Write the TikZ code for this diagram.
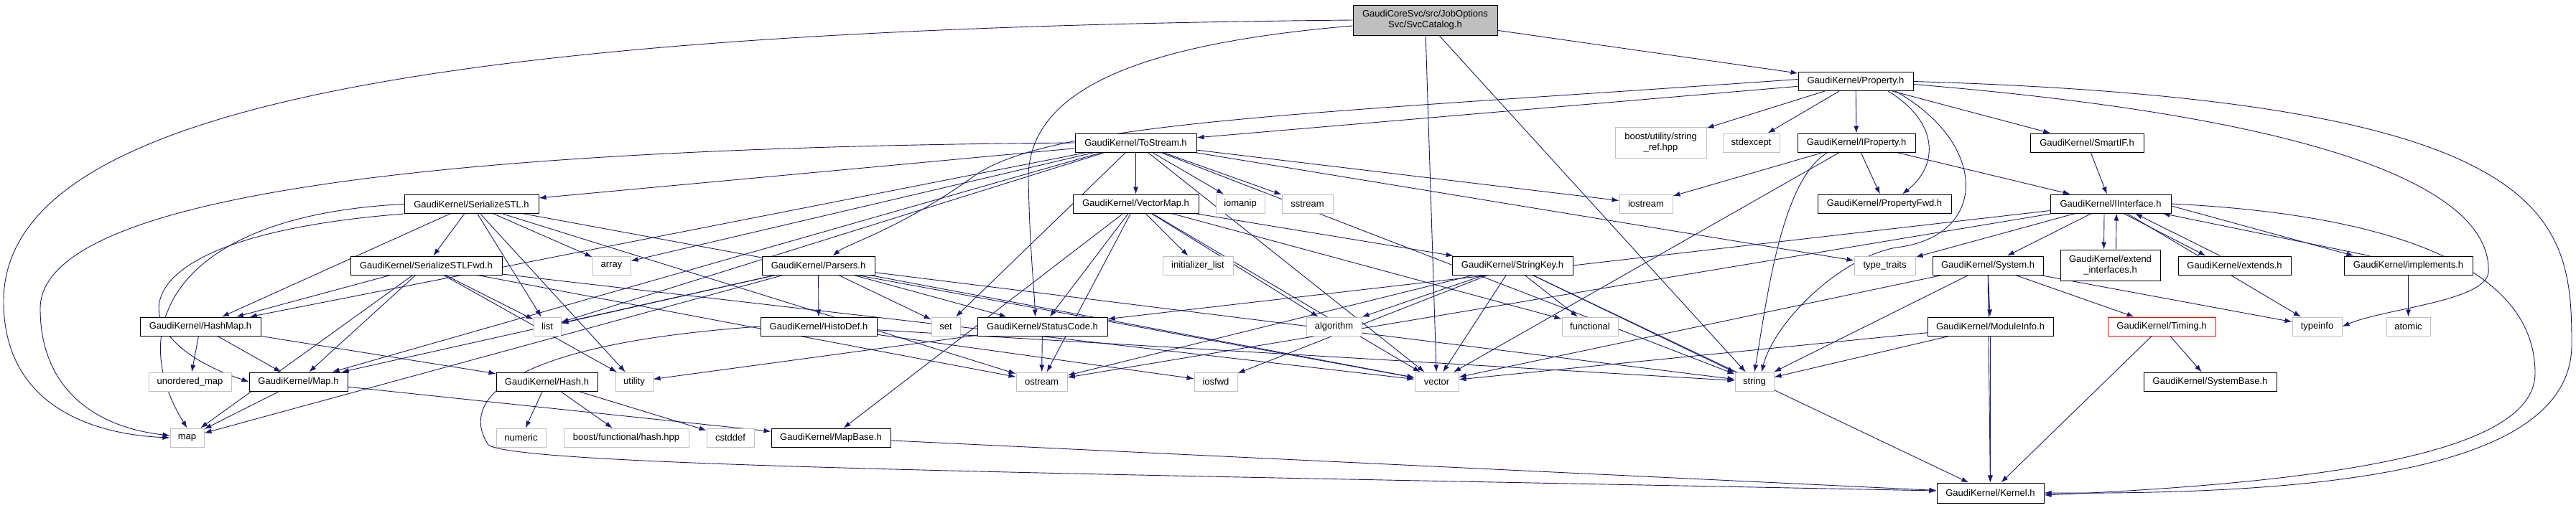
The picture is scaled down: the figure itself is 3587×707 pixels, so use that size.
\documentclass[tikz,border=0pt]{standalone}
\usepackage{fontspec}
\setmainfont{Liberation Sans}
\usetikzlibrary{arrows.meta,backgrounds}
\definecolor{edgeblue}{HTML}{191970}
\definecolor{sysgray}{HTML}{BFBFBF}
\tikzset{
  hdr/.style={draw=black, line width=1pt, fill=white, minimum height=26pt,
    inner sep=0pt, align=center, font=\fontsize{13}{15}\selectfont},
  sys/.style={hdr, draw=sysgray},
  dep/.style={draw=edgeblue, line width=0.9pt, -{Latex[length=10pt,width=7pt]}}
}

\begin{document}
\begin{tikzpicture}[x=1pt,y=-1pt]
        \useasboundingbox (0,0) rectangle (3587,707);
        \node[hdr, fill=sysgray, minimum width=201pt, minimum height=42pt] (svc) at (1984.5,28) {GaudiCoreSvc/src/JobOptions\\Svc/SvcCatalog.h};
        \node[hdr, minimum width=160pt] (prop) at (2584,113.5) {GaudiKernel/Property.h};
        \node[hdr, minimum width=169pt] (tostream) at (1581.5,199) {GaudiKernel/ToStream.h};
        \node[sys, minimum width=127pt, minimum height=43pt] (boostref) at (2312.5,198.5) {boost/utility/string\\\_ref.hpp};
        \node[sys, minimum width=79pt] (stdexcept) at (2438.5,199) {stdexcept};
        \node[hdr, minimum width=164pt] (iprop) at (2585,199) {GaudiKernel/IProperty.h};
        \node[hdr, minimum width=158pt] (smartif) at (2906,199) {GaudiKernel/SmartIF.h};
        \node[hdr, minimum width=187pt] (serstl) at (656.5,284.5) {GaudiKernel/SerializeSTL.h};
        \node[hdr, minimum width=175pt] (vecmap) at (1581.5,284) {GaudiKernel/VectorMap.h};
        \node[sys, minimum width=68pt] (iomanip) at (1727,284) {iomanip};
        \node[sys, minimum width=71pt] (sstream) at (1820.5,284) {sstream};
        \node[sys, minimum width=74pt] (iostream) at (2292,284) {iostream};
        \node[hdr, minimum width=186pt] (propfwd) at (2624,284) {GaudiKernel/PropertyFwd.h};
        \node[hdr, minimum width=168pt] (iiface) at (2939,284) {GaudiKernel/IInterface.h};
        \node[hdr, minimum width=211pt] (serfwd) at (593.5,370) {GaudiKernel/SerializeSTLFwd.h};
        \node[sys, minimum width=53pt] (array) at (851.5,370) {array};
        \node[hdr, minimum width=157pt] (parsers) at (1139.5,370) {GaudiKernel/Parsers.h};
        \node[sys, minimum width=98pt] (initlist) at (1668,370) {initializer\_list};
        \node[hdr, minimum width=168pt] (strkey) at (2106,370) {GaudiKernel/StringKey.h};
        \node[sys, minimum width=85pt] (typetraits) at (2624.5,370) {type\_traits};
        \node[hdr, minimum width=154pt] (system) at (2768,370) {GaudiKernel/System.h};
        \node[hdr, minimum width=139pt, minimum height=43pt] (extiface) at (2938.5,369.5) {GaudiKernel/extend\\\_interfaces.h};
        \node[hdr, minimum width=157pt] (extends) at (3111.5,370) {GaudiKernel/extends.h};
        \node[hdr, minimum width=179pt] (implements) at (3353.5,370) {GaudiKernel/implements.h};
        \node[hdr, minimum width=168pt] (hashmap) at (279,455) {GaudiKernel/HashMap.h};
        \node[sys, minimum width=38pt] (list) at (762,455) {list};
        \node[hdr, minimum width=162pt] (histodef) at (1140,455) {GaudiKernel/HistoDef.h};
        \node[sys, minimum width=40pt] (set) at (1317,455) {set};
        \node[hdr, minimum width=181pt] (statuscode) at (1451.5,455) {GaudiKernel/StatusCode.h};
        \node[sys, minimum width=77pt] (algorithm) at (1857.5,455) {algorithm};
        \node[sys, minimum width=78pt] (functional) at (2214,455) {functional};
        \node[hdr, minimum width=175pt] (moduleinfo) at (2771.5,455) {GaudiKernel/ModuleInfo.h};
        \node[hdr, draw=red, minimum width=150pt] (timing) at (3010,455) {GaudiKernel/Timing.h};
        \node[sys, minimum width=69pt] (typeinfo) at (3226.5,455) {typeinfo};
        \node[sys, minimum width=61pt] (atomic) at (3353.5,455) {atomic};
        \node[sys, minimum width=115pt] (unordmap) at (264.5,532) {unordered\_map};
        \node[hdr, minimum width=137pt] (mapk) at (415.5,532) {GaudiKernel/Map.h};
        \node[hdr, minimum width=141pt] (hash) at (761.5,532) {GaudiKernel/Hash.h};
        \node[sys, minimum width=52pt] (utility) at (883,532) {utility};
        \node[sys, minimum width=71pt] (ostream) at (1450.5,532) {ostream};
        \node[sys, minimum width=60pt] (iosfwd) at (1693,532) {iosfwd};
        \node[sys, minimum width=61pt] (vector) at (2000.5,532) {vector};
        \node[sys, minimum width=54pt] (string) at (2443,532) {string};
        \node[hdr, minimum width=185pt] (systembase) at (3077.5,532) {GaudiKernel/SystemBase.h};
        \node[sys, minimum width=47pt] (stdmap) at (260.5,610) {map};
        \node[sys, minimum width=69pt] (numeric) at (725.5,610) {numeric};
        \node[sys, minimum width=174pt] (boosthash) at (872,610) {boost/functional/hash.hpp};
        \node[sys, minimum width=66pt] (cstddef) at (1017,610) {cstddef};
        \node[hdr, minimum width=166pt] (mapbase) at (1157,610) {GaudiKernel/MapBase.h};
        \node[hdr, minimum width=149pt, minimum height=28pt] (kernel) at (2771.5,687) {GaudiKernel/Kernel.h};
        \begin{pgfonlayer}{background}
        \foreach \a/\b in {svc/prop, svc/vector, svc/string,
            prop/tostream, prop/boostref, prop/stdexcept, prop/iprop, prop/smartif,
            tostream/serstl, tostream/hashmap, tostream/mapk, tostream/array, tostream/list,
            tostream/set, tostream/vecmap, tostream/iomanip, tostream/sstream,
            tostream/iostream, tostream/string, tostream/vector, tostream/typetraits,
            iprop/iostream, iprop/propfwd, iprop/iiface, iprop/vector,
            smartif/iiface,
            iiface/statuscode, iiface/ostream, iiface/typetraits, iiface/system, iiface/typeinfo,
            implements/atomic,
            system/string, system/vector, system/moduleinfo, system/kernel, system/timing, system/typeinfo,
            moduleinfo/kernel, moduleinfo/string, moduleinfo/vector,
            timing/kernel, timing/systembase,
            strkey/algorithm, strkey/iosfwd, strkey/vector, strkey/kernel, strkey/string,
            strkey/functional, strkey/ostream,
            vecmap/mapbase, vecmap/statuscode, vecmap/ostream, vecmap/initlist, vecmap/algorithm,
            vecmap/vector, vecmap/functional, vecmap/strkey,
            serstl/serfwd, serstl/array, serstl/list, serstl/hashmap, serstl/utility,
            serstl/ostream, serstl/vector,
            serfwd/hashmap, serfwd/mapk, serfwd/list, serfwd/stdmap, serfwd/utility,
            serfwd/ostream, serfwd/vector,
            parsers/list, parsers/mapk, parsers/stdmap, parsers/histodef, parsers/set,
            parsers/statuscode, parsers/vector, parsers/string,
            histodef/iosfwd, histodef/string,
            statuscode/ostream, statuscode/utility,
            hashmap/unordmap, hashmap/mapk, hashmap/hash,
            mapk/stdmap, mapk/mapbase,
            hash/numeric, hash/boosthash, hash/cstddef,
            mapbase/kernel}
        \draw[dep] (\a) -- (\b);
        \draw[dep] (svc.west) .. controls (600,40) and (5,150) .. (5,420) .. controls (5,560) and (120,605) .. (stdmap.west);
        \draw[dep] ([yshift=-8pt]svc.west) .. controls (1600,60) and (1430,120) .. (1432,250) .. controls (1434,350) and (1440,400) .. ([xshift=-10pt]statuscode.north);
        \draw[dep] (tostream.west) .. controls (700,205) and (56,260) .. (56,430) .. controls (56,540) and (130,595) .. ([yshift=3pt]stdmap.west);
        \draw[dep] (serstl.west) .. controls (250,300) and (170,450) .. (stdmap.north);
        \draw[dep] (serstl.south west) .. controls (150,330) and (160,470) .. (mapk.west);
        \draw[dep] ([yshift=3pt]prop.west) .. controls (1800,160) and (1450,170) .. (1350,250) .. controls (1250,320) and (1180,340) .. ([xshift=20pt]parsers.north);
        \draw[dep] ([xshift=45pt]prop.south) .. controls (2700,170) and (2700,230) .. ([xshift=25pt]propfwd.north);
        \draw[dep] ([xshift=55pt]prop.south) .. controls (2770,200) and (2770,330) .. (2640,345) .. controls (2560,360) and (2470,450) .. ([xshift=10pt]string.north);
        \draw[dep] ([xshift=-40pt]iprop.south) .. controls (2480,250) and (2460,420) .. (string.north);
        \draw[dep] (prop.east) .. controls (3560,140) and (3581,300) .. (3581,480) .. controls (3581,640) and (3300,690) .. (kernel.east);
        \draw[dep] (iiface.east) .. controls (3350,300) and (3530,380) .. (3530,520) .. controls (3530,620) and (3300,670) .. ([yshift=-3pt]kernel.east);
        \draw[dep] ([yshift=-4pt]prop.east) .. controls (3300,170) and (3470,280) .. (3465,380) .. controls (3460,420) and (3320,430) .. (typeinfo.east);
        \draw[dep] (histodef.west) .. controls (700,480) and (640,560) .. (680,620) .. controls (720,650) and (1500,660) .. ([yshift=3pt]kernel.west);
        \draw[dep] ([xshift=-9pt]iiface.south) -- ([xshift=-9pt]extiface.north);
        \draw[dep] ([xshift=8pt]extiface.north) -- ([xshift=8pt]iiface.south);
        \draw[dep] ([xshift=18pt]iiface.south) -- ([xshift=-40pt]extends.north);
        \draw[dep] ([xshift=-20pt]extends.north) -- ([xshift=34pt]iiface.south);
        \draw[dep] ([yshift=-3pt]iiface.east) -- ([xshift=-76pt]implements.north);
        \draw[dep] ([xshift=-54pt]implements.north) -- ([xshift=-12pt]iiface.south east);
        \end{pgfonlayer}
\end{tikzpicture}
\end{document}
